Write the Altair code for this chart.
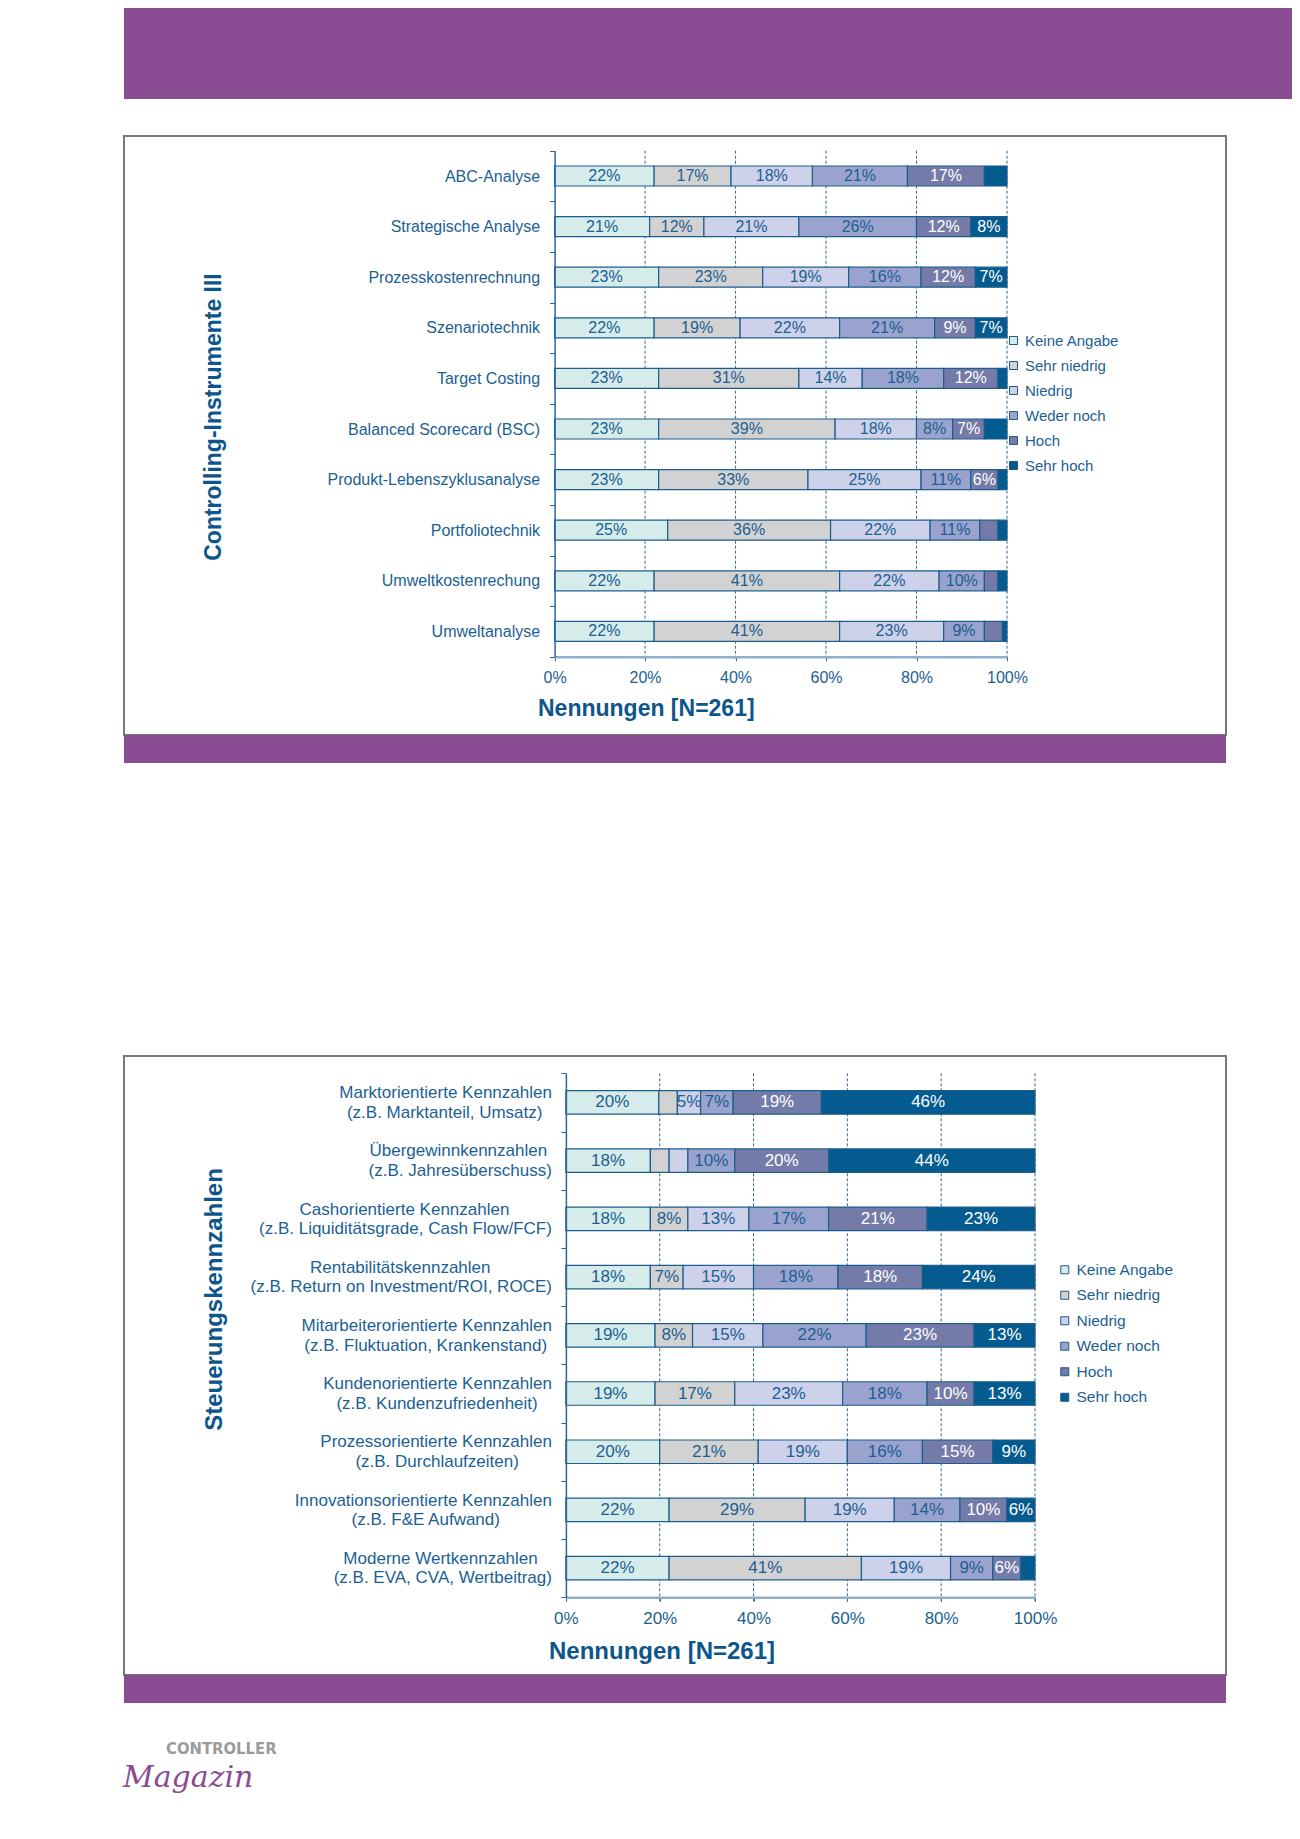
import altair as alt
import pandas as pd

# ---------------- data ----------------
series = ["Keine Angabe", "Sehr niedrig", "Niedrig", "Weder noch", "Hoch", "Sehr hoch"]
colors = ["#d5ecea", "#d2d2d2", "#cdd1e9", "#9aa3ce", "#747ba8", "#035b8f"]

ci_categories = [
    "ABC-Analyse", "Strategische Analyse", "Prozesskostenrechnung", "Szenariotechnik",
    "Target Costing", "Balanced Scorecard (BSC)", "Produkt-Lebenszyklusanalyse",
    "Portfoliotechnik", "Umweltkostenrechung", "Umweltanalyse",
]
ci_keine_angabe = [22, 21, 23, 22, 23, 23, 23, 25, 22, 22]
ci_sehr_niedrig = [17, 12, 23, 19, 31, 39, 33, 36, 41, 41]
ci_niedrig = [18, 21, 19, 22, 14, 18, 25, 22, 22, 23]
ci_weder_noch = [21, 26, 16, 21, 18, 8, 11, 11, 10, 9]
ci_hoch = [17, 12, 12, 9, 12, 7, 6, 4, 3, 4]
ci_sehr_hoch = [5, 8, 7, 7, 2, 5, 2, 2, 2, 1]

sk_categories = [
    "Marktorientierte Kennzahlen|(z.B. Marktanteil, Umsatz)",
    "Übergewinnkennzahlen|(z.B. Jahresüberschuss)",
    "Cashorientierte Kennzahlen|(z.B. Liquiditätsgrade, Cash Flow/FCF)",
    "Rentabilitätskennzahlen|(z.B. Return on Investment/ROI, ROCE)",
    "Mitarbeiterorientierte Kennzahlen|(z.B. Fluktuation, Krankenstand)",
    "Kundenorientierte Kennzahlen|(z.B. Kundenzufriedenheit)",
    "Prozessorientierte Kennzahlen|(z.B. Durchlaufzeiten)",
    "Innovationsorientierte Kennzahlen|(z.B. F&E Aufwand)",
    "Moderne Wertkennzahlen|(z.B. EVA, CVA, Wertbeitrag)",
]
sk_keine_angabe = [20, 18, 18, 18, 19, 19, 20, 22, 22]
sk_sehr_niedrig = [4, 4, 8, 7, 8, 17, 21, 29, 41]
sk_niedrig = [5, 4, 13, 15, 15, 23, 19, 19, 19]
sk_weder_noch = [7, 10, 17, 18, 22, 18, 16, 14, 9]
sk_hoch = [19, 20, 21, 18, 23, 10, 15, 10, 6]
sk_sehr_hoch = [46, 44, 23, 24, 13, 13, 9, 6, 3]

x_ticks = [0, 0.2, 0.4, 0.6, 0.8, 1.0]
grid_ticks = [0.2, 0.4, 0.6, 0.8, 1.0]

ci_title = "Controlling-Instrumente III"
sk_title = "Steuerungskennzahlen"
x_title = "Nennungen [N=261]"

# ---------------- helpers ----------------
# Arial / Liberation Sans advance widths (1/1000 em), used only to centre the
# two lines of each multi-line axis label inside its right-aligned block.
_AW = {" ": 278, "&": 667, "(": 333, ")": 333, ",": 278, "-": 333, ".": 278, "/": 278,
       "A": 667, "B": 667, "C": 722, "D": 722, "E": 667, "F": 611, "G": 778, "H": 722,
       "I": 278, "J": 500, "K": 667, "L": 556, "M": 833, "N": 722, "O": 778, "P": 667,
       "R": 722, "S": 667, "T": 611, "U": 722, "V": 667, "W": 944, "Ü": 722,
       "a": 556, "b": 556, "c": 500, "d": 556, "e": 556, "f": 278, "g": 556, "h": 556,
       "i": 222, "j": 222, "k": 500, "l": 222, "m": 833, "n": 556, "o": 556, "p": 556,
       "q": 556, "r": 333, "s": 500, "t": 278, "u": 556, "v": 500, "w": 722, "x": 500,
       "y": 500, "z": 500, "ä": 556, "ö": 556, "ü": 556, "ß": 611}


def _w(s):
    return sum(_AW.get(ch, 556) for ch in s)


def centred_label(cat):
    lines = cat.split("|")
    widest = max(_w(l) for l in lines)
    out = []
    for l in lines:
        n = int(round((widest - _w(l)) / 2 / 278))
        # no-break spaces, guarded by a zero-width space so they are not trimmed
        out.append(l + "\u00a0" * n + ("\u200b" if n else ""))
    return "|".join(out)


def long_df(cats, cols, display):
    rows = []
    for si, (s, vals) in enumerate(zip(series, cols)):
        for c, v in zip(cats, vals):
            rows.append({"cat": display(c), "series": s, "order": si, "value": v})
    return pd.DataFrame(rows)


ci_df = long_df(ci_categories, [ci_keine_angabe, ci_sehr_niedrig, ci_niedrig,
                                ci_weder_noch, ci_hoch, ci_sehr_hoch], lambda c: c)
sk_df = long_df(sk_categories, [sk_keine_angabe, sk_sehr_niedrig, sk_niedrig,
                                sk_weder_noch, sk_hoch, sk_sehr_hoch], centred_label)
sk_domain = [centred_label(c) for c in sk_categories]

# ---------------- style ----------------
W, H = 1284, 1800
FONT = "Liberation Sans"
TEXT = "#1c5f93"
TITLE = "#0d568c"
PURPLE = "#894b91"
EDGE = "#1d5d8d"


def panel(df, cats, xr, yr, bar_size, fs, label_min, y_title, y_title_x, y_title_y,
          title_fs, x_title_x, x_title_y, lab_pad_y, lab_pad_x, leg_x, leg_y, leg_fs,
          leg_pad, multiline=False):
    xscale = alt.Scale(domain=[0, 1], range=xr)
    yscale = alt.Scale(domain=cats, range=yr, paddingInner=0, paddingOuter=0)
    xaxis = alt.Axis(
        orient="bottom", offset=yr[1] - H, values=x_ticks, format="%", grid=False,
        domainColor="#8db0cc", domainWidth=2.5, tickColor="#2a6797", tickSize=4,
        labelFont=FONT, labelFontSize=fs, labelColor=TEXT, labelPadding=lab_pad_x,
        labelFlush=False,
        title=x_title, titleFont=FONT, titleFontSize=title_fs, titleFontWeight="bold",
        titleColor=TITLE, titleX=x_title_x, titleY=x_title_y, titleAlign="center",
        titleBaseline="middle", zindex=1,
    )
    ykw = dict(
        orient="left", offset=-xr[0], tickBand="extent", tickSize=5, tickColor="#2a6797",
        domainColor="#2a6797", domainWidth=1.5, grid=False,
        labelFont=FONT, labelFontSize=fs, labelColor=TEXT, labelPadding=lab_pad_y,
        labelLimit=600,
        title=y_title, titleFont=FONT, titleFontSize=title_fs, titleFontWeight="bold",
        titleColor=TITLE, titleX=y_title_x, titleY=y_title_y, titleAngle=270,
        titleAlign="center", titleBaseline="middle", zindex=1,
    )
    if multiline:
        ykw["labelExpr"] = "split(datum.label, '|')"
        ykw["labelLineHeight"] = 19.5
        ykw["labelOffset"] = -9.75
    yaxis = alt.Axis(**ykw)

    stack = dict(stack="value", groupby=["cat"], as_=["x0", "x1"], offset="normalize",
                 sort=[alt.SortField("order", order="ascending")])

    grid = alt.Chart(pd.DataFrame({"g": grid_ticks})).mark_rule(
        color="#2f6c9b", strokeWidth=1, strokeDash=[3, 2]
    ).encode(
        x=alt.X("g:Q", scale=xscale, axis=xaxis),
        y=alt.value(yr[0]), y2=alt.value(yr[1] + 4),
    )

    bars = alt.Chart(df).transform_stack(**stack).mark_bar(
        size=bar_size, stroke=EDGE, strokeWidth=1.2
    ).encode(
        x=alt.X("x0:Q", scale=xscale, axis=xaxis),
        x2="x1:Q",
        y=alt.Y("cat:N", scale=yscale, axis=yaxis),
        color=alt.Color(
            "series:N", title=None,
            scale=alt.Scale(domain=series, range=colors),
            legend=alt.Legend(
                orient="none", legendX=leg_x, legendY=leg_y, direction="vertical",
                symbolType="square", symbolSize=64, symbolStrokeColor=EDGE,
                symbolStrokeWidth=1, labelFont=FONT, labelFontSize=leg_fs,
                labelColor=TEXT, rowPadding=leg_pad, padding=0, labelOffset=4,
            ),
        ),
    )

    text = alt.Chart(df).transform_stack(**stack).transform_calculate(
        xm="(datum.x0 + datum.x1) / 2", lbl="datum.value + '%'"
    ).transform_filter(f"datum.value >= {label_min}").mark_text(
        font=FONT, fontSize=fs, baseline="middle", align="center"
    ).encode(
        x=alt.X("xm:Q", scale=xscale, axis=xaxis),
        y=alt.Y("cat:N", scale=yscale, axis=yaxis),
        text="lbl:N",
        color=alt.condition(
            alt.FieldOneOfPredicate(field="series", oneOf=["Hoch", "Sehr hoch"]),
            alt.value("white"), alt.value(TEXT)),
    )
    return alt.layer(grid, bars, text)


chart1 = panel(ci_df, ci_categories, xr=[546.6, 999.0], yr=[142.7, 648.7], bar_size=20,
               fs=16, label_min=6, y_title=ci_title, y_title_x=206 - 546.6, y_title_y=408.5,
               title_fs=23, x_title_x=637.8, x_title_y=51.6, lab_pad_y=10, lab_pad_x=9,
               leg_x=998, leg_y=325, leg_fs=15, leg_pad=9)

chart2 = panel(sk_df, sk_domain, xr=[557.9, 1027.0], yr=[1065.3, 1589.3], bar_size=23.5,
               fs=17, label_min=5, y_title=sk_title, y_title_x=206 - 557.9, y_title_y=1291,
               title_fs=24, x_title_x=653.5, x_title_y=54.4, lab_pad_y=9.5, lab_pad_x=9.4,
               leg_x=1049, leg_y=1254, leg_fs=15.5, leg_pad=8.5, multiline=True)

# ---------------- page decoration ----------------
dummy = pd.DataFrame({"d": [0]})


def rect(x, x2, y, y2, **kw):
    return alt.Chart(dummy).mark_rect(**kw).encode(
        x=alt.value(x), x2=alt.value(x2), y=alt.value(y), y2=alt.value(y2))


deco = [
    rect(116, W, 0, 91, color=PURPLE),
    rect(116, 1218, 128, 727, fill="white", fillOpacity=0, stroke="#777777", strokeWidth=2),
    rect(116, 1218, 727, 755, color=PURPLE),
    rect(116, 1218, 1048, 1667, fill="white", fillOpacity=0, stroke="#777777", strokeWidth=2),
    rect(116, 1218, 1667, 1695, color=PURPLE),
    alt.Chart(dummy).mark_text(
        text="CONTROLLER", font="Liberation Sans Narrow, DejaVu Sans Condensed, Liberation Sans",
        fontWeight="bold", fontSize=16.5, color="#9b9b9b", align="left", baseline="alphabetic",
    ).encode(x=alt.value(158), y=alt.value(1746)),
    alt.Chart(dummy).mark_text(
        text="Magazin", font="DejaVu Serif", fontStyle="italic", fontSize=30,
        color="#8a4b92", align="left", baseline="alphabetic",
    ).encode(x=alt.value(115), y=alt.value(1779)),
]

chart = alt.layer(*deco, chart1, chart2).resolve_scale(
    x="independent", y="independent", color="independent"
).resolve_axis(x="independent", y="independent").resolve_legend(
    color="independent"
).properties(
    width=W, height=H, autosize=alt.AutoSizeParams(type="none"), padding=0
).configure_view(strokeWidth=0)

chart.save("out.html", embed_options={"renderer": "svg", "actions": False})
